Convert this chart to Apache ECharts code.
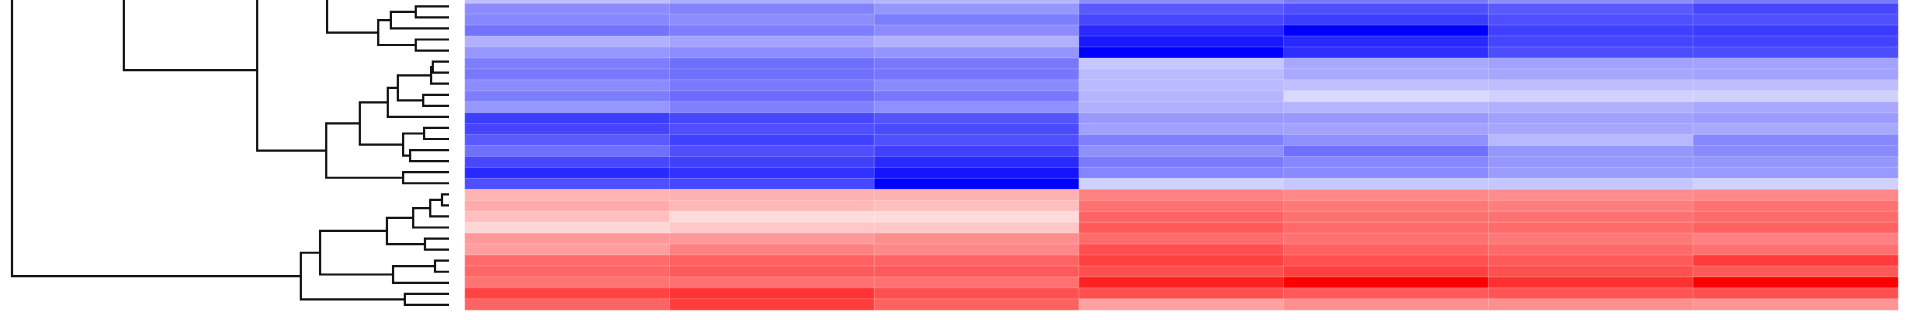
<!DOCTYPE html>
<html>
<head>
<meta charset="utf-8">
<script src="https://cdn.jsdelivr.net/npm/echarts@6/dist/echarts.min.js"></script>
<style>
html,body{margin:0;padding:0;background:#fff;overflow:hidden;width:1920px;height:320px;position:relative;}
/* the picture is a crop of a taller figure: the canvas starts a little above the page top */
#chart{position:absolute;left:0;top:-12px;width:1920px;height:332px;}
</style>
</head>
<body>
<div id="chart"></div>
<script>
// Samples (heatmap columns) and rows (row 0 is the one cut off at the top edge)
const samples = ['S1', 'S2', 'S3', 'S4', 'S5', 'S6', 'S7'];
const rowNames = Array.from({length: 29}, (_, i) => 'row' + i);

// Values per sample column, rows 0..28 (negative = blue, positive = red)
const s1 = [-0.25,-0.45,-0.47,-0.55,-0.31,-0.41,-0.51,-0.53,-0.45,-0.51,-0.41,-0.76,-0.73,-0.65,-0.56,-0.72,-0.84,-0.69,
            0.30,0.33,0.25,0.16,0.40,0.38,0.58,0.60,0.55,0.74,0.61];
const s2 = [-0.33,-0.49,-0.45,-0.51,-0.36,-0.45,-0.57,-0.56,-0.52,-0.58,-0.50,-0.72,-0.69,-0.75,-0.69,-0.75,-0.81,-0.72,
            0.31,0.28,0.14,0.22,0.40,0.50,0.62,0.65,0.56,0.80,0.76];
const s3 = [-0.29,-0.41,-0.51,-0.45,-0.31,-0.42,-0.53,-0.54,-0.46,-0.53,-0.44,-0.67,-0.71,-0.69,-0.75,-0.84,-0.92,-1.00,
            0.31,0.25,0.14,0.22,0.44,0.47,0.61,0.65,0.56,0.69,0.62];
const s4 = [-0.45,-0.65,-0.72,-0.84,-0.90,-1.00,-0.22,-0.27,-0.27,-0.29,-0.31,-0.40,-0.37,-0.50,-0.44,-0.52,-0.48,-0.18,
            0.50,0.56,0.61,0.65,0.58,0.69,0.75,0.69,0.87,0.69,0.37];
const s5 = [-0.53,-0.69,-0.76,-1.00,-0.84,-0.82,-0.34,-0.34,-0.25,-0.15,-0.29,-0.40,-0.36,-0.44,-0.56,-0.47,-0.46,-0.22,
            0.47,0.53,0.56,0.59,0.56,0.62,0.69,0.75,1.00,0.65,0.44];
const s6 = [-0.45,-0.65,-0.69,-0.75,-0.73,-0.70,-0.37,-0.35,-0.26,-0.18,-0.31,-0.37,-0.35,-0.28,-0.41,-0.41,-0.39,-0.22,
            0.45,0.51,0.56,0.58,0.53,0.59,0.65,0.69,0.81,0.67,0.44];
const s7 = [-0.53,-0.72,-0.69,-0.77,-0.74,-0.70,-0.36,-0.36,-0.26,-0.18,-0.34,-0.39,-0.34,-0.47,-0.46,-0.41,-0.40,-0.18,
            0.47,0.56,0.58,0.62,0.50,0.56,0.77,0.65,1.00,0.69,0.42];

// Dendrogram merges: [id, childA, childB, height]; numbers are leaf rows, strings are earlier merges
const merges = [
  ['n1', 1, 2, 0.76], ['n2', 'n1', 3, 1.33], ['n3', 4, 5, 0.76], ['N', 'n2', 'n3', 1.62],
  ['A', 6, 7, 0.37], ['B', 'A', 8, 0.41], ['C', 9, 10, 0.59], ['D', 'B', 'C', 1.17], ['E', 'D', 11, 1.40],
  ['F', 12, 13, 0.57], ['G', 14, 15, 0.89], ['H', 'F', 'G', 1.05], ['I', 'E', 'H', 2.04],
  ['J', 16, 17, 1.05], ['K', 'I', 'J', 2.81],
  ['M', 'X2', 'N', 2.79], ['L', 'M', 'K', 4.39], ['T', 'X1', 'L', 7.44],
  ['r1', 18, 19, 0.16], ['r2', 'r1', 20, 0.43], ['r3', 'r2', 21, 0.82], ['r4', 22, 23, 0.55],
  ['r5', 'r3', 'r4', 1.42], ['r6', 24, 25, 0.32], ['r7', 'r6', 26, 1.28], ['R', 'r5', 'r7', 2.95],
  ['Q', 27, 28, 1.01], ['P', 'R', 'Q', 3.39], ['root', 'U', 'P', 10.0]
];
// Branches that continue above the cropped top edge: [row position, height]
const aboveCut = { X1: [-12, 6.0], X2: [-4.4, 2.0], U: [-19.5, 8.5] };

const cols = [s1, s2, s3, s4, s5, s6, s7];
const heatData = [];
cols.forEach((col, ci) => col.forEach((v, ri) => heatData.push([ci, ri, v])));

const nodes = {};
Object.keys(aboveCut).forEach(k => nodes[k] = {y: aboveCut[k][0], h: aboveCut[k][1]});
const get = c => typeof c === 'number' ? {y: c, h: 0} : nodes[c];
const linkData = [];
merges.forEach(([id, a, b, h]) => {
  const na = get(a), nb = get(b);
  nodes[id] = {y: (na.y + nb.y) / 2, h: h};
  linkData.push({coords: [[na.h, na.y], [h, na.y], [h, nb.y], [nb.h, nb.y]]});
});

const chart = echarts.init(document.getElementById('chart'), null, {renderer: 'canvas'});
chart.setOption({
  animation: false,
  backgroundColor: '#fff',
  grid: [
    {left: 465, right: 22, top: 4.45, bottom: 10},
    {left: 12, width: 437, top: 1.71, bottom: 9.55}
  ],
  xAxis: [
    {type: 'category', data: samples, gridIndex: 0, show: false},
    {type: 'value', gridIndex: 1, min: 0, max: 10, inverse: true, show: false}
  ],
  yAxis: [
    {type: 'category', data: rowNames, gridIndex: 0, inverse: true, show: false},
    {type: 'value', gridIndex: 1, min: -0.5, max: 28.5, inverse: true, show: false}
  ],
  visualMap: {
    type: 'continuous', min: -1, max: 1, show: false, seriesIndex: 0,
    inRange: {color: ['#0000ff', '#ffffff', '#ff0000']}
  },
  series: [
    {
      type: 'heatmap', xAxisIndex: 0, yAxisIndex: 0, data: heatData,
      itemStyle: {borderColor: 'rgba(255,255,255,0.3)', borderWidth: 0.6},
      emphasis: {disabled: true}, silent: true
    },
    {
      type: 'lines', coordinateSystem: 'cartesian2d', xAxisIndex: 1, yAxisIndex: 1,
      polyline: true, data: linkData, silent: true, clip: false,
      lineStyle: {color: '#111', width: 2.2, opacity: 1}
    }
  ]
});
</script>
</body>
</html>
